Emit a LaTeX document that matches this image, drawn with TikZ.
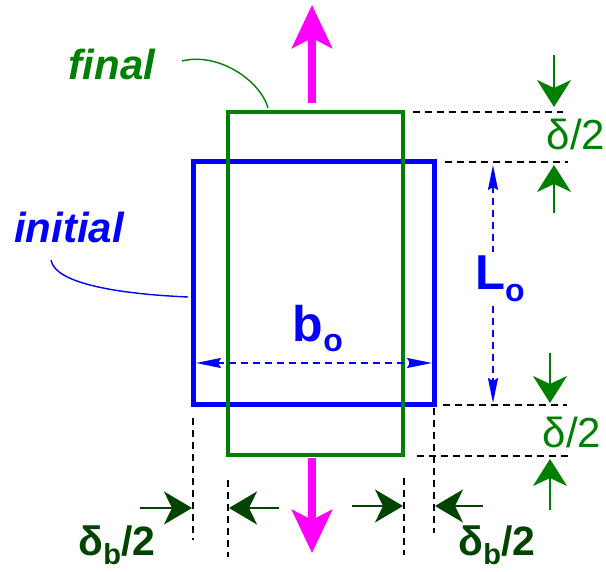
\documentclass[tikz,border=0pt]{standalone}
\usepackage{fontspec}
\setmainfont{Liberation Sans}
\usepackage{tikz}
\usetikzlibrary{arrows.meta}
\definecolor{finalgreen}{RGB}{0,128,0}
\definecolor{initblue}{RGB}{0,0,255}
\definecolor{pullmagenta}{RGB}{255,0,255}
\definecolor{gapgreen}{RGB}{0,68,0}
\newcommand{\lowsub}[3]{\raisebox{-#1}{\fontsize{#2}{#2}\selectfont #3}}
\tikzset{
  initbox/.style={
    draw=initblue,
    line width=5pt
  },
  finalbox/.style={
    draw=finalgreen,
    line width=4.8pt
  },
  guideline/.style={
    draw=black,
    line width=2.3pt,
    dash pattern=on 7pt off 5pt
  },
  pullarrow/.style={
    -{Stealth[length=43pt,width=40pt,inset=10pt]},
    line width=8pt,
    draw=pullmagenta
  },
  deltaarrow/.style={
    -{Stealth[length=27pt,width=34pt,inset=8pt]},
    line width=2.2pt,
    draw=finalgreen
  },
  gaparrow/.style={
    -{Stealth[length=28pt,width=33pt,inset=8pt]},
    line width=2.2pt,
    draw=gapgreen
  },
  sizearrow/.style={
    {Stealth[length=25pt,width=10pt,inset=3pt]}-{Stealth[length=25pt,width=10pt,inset=3pt]},
    line width=2pt,
    dash pattern=on 7pt off 5pt,
    draw=initblue
  },
  leadline/.style={
    line width=1.4pt
  },
  tag/.style={
    anchor=base,
    inner sep=0pt,
    font=\fontsize{42}{42}\selectfont\bfseries\itshape
  },
  dimtext/.style={
    anchor=base,
    inner sep=0pt,
    font=\fontsize{42}{42}\selectfont
  }
}

\begin{document}
\begin{tikzpicture}[x=1pt,y=-1pt]
  \useasboundingbox (0,0) rectangle (606,572);

  % initial and final outlines
  \coordinate (iTL) at (193,162);
  \coordinate (iBR) at (434,405);
  \coordinate (fTL) at (228,112);
  \coordinate (fBR) at (403,455);
  \draw[initbox] (iTL) rectangle (iBR);
  \draw[finalbox] (fTL) rectangle (fBR);

  % extension lines
  \coordinate (h1a) at (413,112); \coordinate (h1b) at (563,112);
  \coordinate (h2a) at (445,162); \coordinate (h2b) at (568,162);
  \coordinate (h3a) at (443,405); \coordinate (h3b) at (567,405);
  \coordinate (h4a) at (417,456); \coordinate (h4b) at (568,456);
  \coordinate (v1a) at (193,418); \coordinate (v1b) at (193,540);
  \coordinate (v2a) at (228,480); \coordinate (v2b) at (228,557);
  \coordinate (v3a) at (404,478); \coordinate (v3b) at (404,555);
  \coordinate (v4a) at (434,408); \coordinate (v4b) at (434,533);
  \foreach \g in {h1,h2,h3,h4,v1,v2,v3,v4}
    \draw[guideline] (\g a) -- (\g b);

  % pulling load
  \coordinate (upA) at (312,103); \coordinate (upB) at (312,5);
  \coordinate (dnA) at (312,458); \coordinate (dnB) at (312,553);
  \draw[pullarrow] (upA) -- (upB);
  \draw[pullarrow] (dnA) -- (dnB);

  % labels
  \node[tag, text=finalgreen] (final) at (112,80) {final};
  \node[tag, text=initblue] (initial) at (69,243) {initial};
  \coordinate (finA) at (182,61); \coordinate (finB) at (268,108);
  \coordinate (iniA) at (51,260); \coordinate (iniB) at (188,297);
  \draw[leadline, finalgreen] (finA) .. controls (218,52) and (260,80) .. (finB);
  \draw[leadline, initblue] (iniA) .. controls (55,284) and (120,294) .. (iniB);

  % original sizes
  \coordinate (bA) at (196,363); \coordinate (bB) at (432,363);
  \coordinate (LA) at (493,165); \coordinate (LB) at (493,403);
  \draw[sizearrow] (bA) -- (bB);
  \draw[sizearrow] (LA) -- (LB);
  \node[anchor=base, inner sep=0pt, text=initblue, font=\fontsize{50}{50}\selectfont\bfseries]
    (bo) at (318,342) {b\lowsub{10pt}{32}{o}};
  \node[anchor=base, inner sep=4pt, fill=white, text=initblue, font=\fontsize{49}{49}\selectfont\bfseries]
    (Lo) at (500,290) {L\lowsub{12pt}{32}{o}};

  % length change
  \coordinate (d1a) at (554,55);  \coordinate (d1b) at (554,107);
  \coordinate (d2a) at (554,213); \coordinate (d2b) at (554,165);
  \coordinate (d3a) at (550,353); \coordinate (d3b) at (550,403);
  \coordinate (d4a) at (550,510); \coordinate (d4b) at (550,459);
  \foreach \d in {d1,d2,d3,d4}
    \draw[deltaarrow] (\d a) -- (\d b);
  \node[dimtext, text=finalgreen] (dtop) at (576,150) {δ/2};
  \node[dimtext, text=finalgreen] (dbot) at (572,447) {δ/2};

  % width change
  \coordinate (w1a) at (140,508); \coordinate (w1b) at (192,508);
  \coordinate (w2a) at (279,508); \coordinate (w2b) at (229,508);
  \coordinate (w3a) at (352,506); \coordinate (w3b) at (403,506);
  \coordinate (w4a) at (483,506); \coordinate (w4b) at (435,506);
  \foreach \w in {w1,w2,w3,w4}
    \draw[gaparrow] (\w a) -- (\w b);
  \node[anchor=base, inner sep=0pt, text=gapgreen, font=\fontsize{41}{41}\selectfont\bfseries]
    (dbl) at (117,555) {δ\lowsub{9pt}{29}{b}/2};
  \node[anchor=base, inner sep=0pt, text=gapgreen, font=\fontsize{41}{41}\selectfont\bfseries]
    (dbr) at (497,555) {δ\lowsub{9pt}{29}{b}/2};
\end{tikzpicture}
\end{document}
